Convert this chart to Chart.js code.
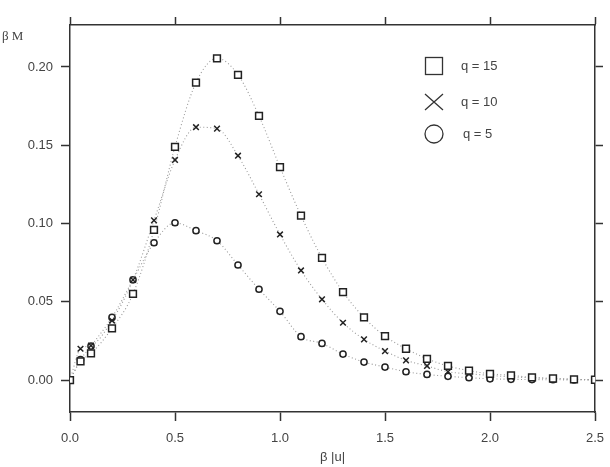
<!DOCTYPE html>
<html>
<head>
<meta charset="utf-8">
<script src="https://cdn.jsdelivr.net/npm/chart.js@4/dist/chart.umd.min.js"></script>
<style>
  html, body { margin: 0; padding: 0; background: #fff; }
  #wrap { width: 610px; height: 467px; position: relative; }
</style>
</head>
<body>
<div id="wrap"><canvas id="c" width="610" height="467"></canvas></div>
<script>
// ---- data ----
const xValues = [0, 0.05, 0.1, 0.2, 0.3, 0.4, 0.5, 0.6, 0.7, 0.8, 0.9, 1.0, 1.1, 1.2, 1.3, 1.4, 1.5, 1.6, 1.7, 1.8, 1.9, 2.0, 2.1, 2.2, 2.3, 2.4, 2.5];
const q15 = [0, 0.012, 0.017, 0.033, 0.055, 0.096, 0.149, 0.190, 0.2055, 0.195, 0.1687, 0.136, 0.105, 0.078, 0.0562, 0.040, 0.028, 0.020, 0.0136, 0.009, 0.006, 0.004, 0.003, 0.0017, 0.001, 0.0005, 0.0002];
const q10 = [0, 0.020, 0.022, 0.038, 0.064, 0.102, 0.1406, 0.1615, 0.1606, 0.1433, 0.1187, 0.093, 0.070, 0.0516, 0.0366, 0.026, 0.0185, 0.0126, 0.009, 0.0053, 0.004, 0.003, 0.002, 0.0015, 0.001, 0.0005, 0.0002];
const q5  = [0, 0.013, 0.0217, 0.040, 0.064, 0.0877, 0.1005, 0.0954, 0.089, 0.0735, 0.058, 0.0439, 0.0277, 0.0234, 0.0166, 0.0115, 0.0083, 0.0053, 0.0036, 0.0024, 0.0015, 0.0008, 0.0005, 0.0003, 0.0002, 0.0001, 0.0001];
const seriesLabels = ['q = 15', 'q = 10', 'q = 5'];
const xTicks = [0, 0.5, 1.0, 1.5, 2.0, 2.5];
const yTicks = [0.00, 0.05, 0.10, 0.15, 0.20];
const xTitle = 'β |u|';
const yTitle = 'β M';

// ---- helpers ----
const pts = (ys) => xValues.map((x, i) => ({ x: x, y: ys[i] }));
const INK = '#333';
const TXT = '#444';
const FONT = 'Liberation Sans, Arial, sans-serif';

function ds(label, ys, style, radius) {
  return {
    label: label,
    data: pts(ys),
    showLine: true,
    borderColor: '#9a9a9a',
    borderWidth: 1.1,
    borderDash: [1, 2.5],
    cubicInterpolationMode: 'monotone',
    pointStyle: style,
    pointRadius: radius,
    pointHoverRadius: radius,
    pointBorderColor: '#222',
    pointBackgroundColor: '#fff',
    pointBorderWidth: 1.5,
    fill: false
  };
}

const setTicks = (arr) => (scale) => { scale.ticks = arr.map(v => ({ value: v })); };
const fitBox = (w, h) => (s) => {
  if (w !== null) s.width = w;
  if (h !== null) s.height = h;
  s.paddingLeft = 0; s.paddingRight = 0; s.paddingTop = 0; s.paddingBottom = 0;
};

const frameAxis = (extra) => Object.assign({
  border: { display: true, color: INK, width: 1.5 },
  grid: { drawOnChartArea: false, drawTicks: true, tickLength: 9, tickWidth: 1.5, tickColor: INK, color: INK }
}, extra);

const annotations = {
  id: 'annotations',
  afterDraw(chart) {
    const ctx = chart.ctx;
    ctx.save();
    // axis titles
    ctx.fillStyle = TXT;
    ctx.textBaseline = 'middle';
    ctx.font = '13px "Liberation Serif", "Times New Roman", serif';
    ctx.textAlign = 'left';
    ctx.fillText(yTitle, 2, 37);
    ctx.font = '13px ' + FONT;
    ctx.textAlign = 'center';
    const ca = chart.chartArea;
    ctx.fillText(xTitle, (ca.left + ca.right) / 2, 457);

    // legend (inside plot, top right)
    const lx = 434, rows = [66, 102, 134], tx = 461;
    ctx.strokeStyle = INK;
    ctx.lineWidth = 1.3;
    // square
    ctx.strokeRect(lx - 8.5, rows[0] - 8.5, 17, 17);
    // cross
    ctx.beginPath();
    ctx.moveTo(lx - 9, rows[1] - 8); ctx.lineTo(lx + 9, rows[1] + 8);
    ctx.moveTo(lx + 9, rows[1] - 8); ctx.lineTo(lx - 9, rows[1] + 8);
    ctx.stroke();
    // circle
    ctx.beginPath();
    ctx.arc(lx, rows[2], 9, 0, Math.PI * 2);
    ctx.stroke();
    ctx.fillStyle = TXT;
    ctx.textAlign = 'left';
    ctx.font = '13px ' + FONT;
    seriesLabels.forEach((t, i) => ctx.fillText(t, tx + (i === 2 ? 2 : 0), rows[i]));
    ctx.restore();
  }
};

new Chart(document.getElementById('c'), {
  type: 'scatter',
  data: {
    datasets: [
      ds(seriesLabels[0], q15, 'rect', 4.8),
      ds(seriesLabels[1], q10, 'crossRot', 4),
      ds(seriesLabels[2], q5, 'circle', 3.1)
    ]
  },
  options: {
    responsive: false,
    animation: false,
    devicePixelRatio: 1,
    layout: { padding: 0 },
    plugins: { legend: { display: false }, tooltip: { enabled: false }, title: { display: false } },
    scales: {
      x: frameAxis({
        type: 'linear', position: 'bottom', min: 0, max: 2.5,
        afterBuildTicks: setTicks(xTicks),
        afterFit: fitBox(null, 55),
        ticks: { color: TXT, font: { size: 13, family: FONT }, padding: 10, maxRotation: 0, autoSkip: false,
                 callback: (v) => Number(v).toFixed(1) }
      }),
      x2: frameAxis({
        type: 'linear', axis: 'x', position: 'top', min: 0, max: 2.5,
        afterBuildTicks: setTicks(xTicks),
        afterFit: fitBox(null, 25),
        grid: { drawOnChartArea: false, drawTicks: true, tickLength: 8, tickWidth: 1.5, tickColor: INK, color: INK },
        ticks: { display: false }
      }),
      y: frameAxis({
        type: 'linear', position: 'left', min: -0.0204, max: 0.2268,
        afterBuildTicks: setTicks(yTicks),
        afterFit: fitBox(70, null),
        ticks: { color: TXT, font: { size: 13, family: FONT }, padding: 8, autoSkip: false,
                 callback: (v) => Number(v).toFixed(2) }
      }),
      y2: frameAxis({
        type: 'linear', axis: 'y', position: 'right', min: -0.0204, max: 0.2268,
        afterBuildTicks: setTicks(yTicks),
        afterFit: fitBox(15, null),
        grid: { drawOnChartArea: false, drawTicks: true, tickLength: 8, tickWidth: 1.5, tickColor: INK, color: INK },
        ticks: { display: false }
      })
    }
  },
  plugins: [annotations]
});
</script>
</body>
</html>
